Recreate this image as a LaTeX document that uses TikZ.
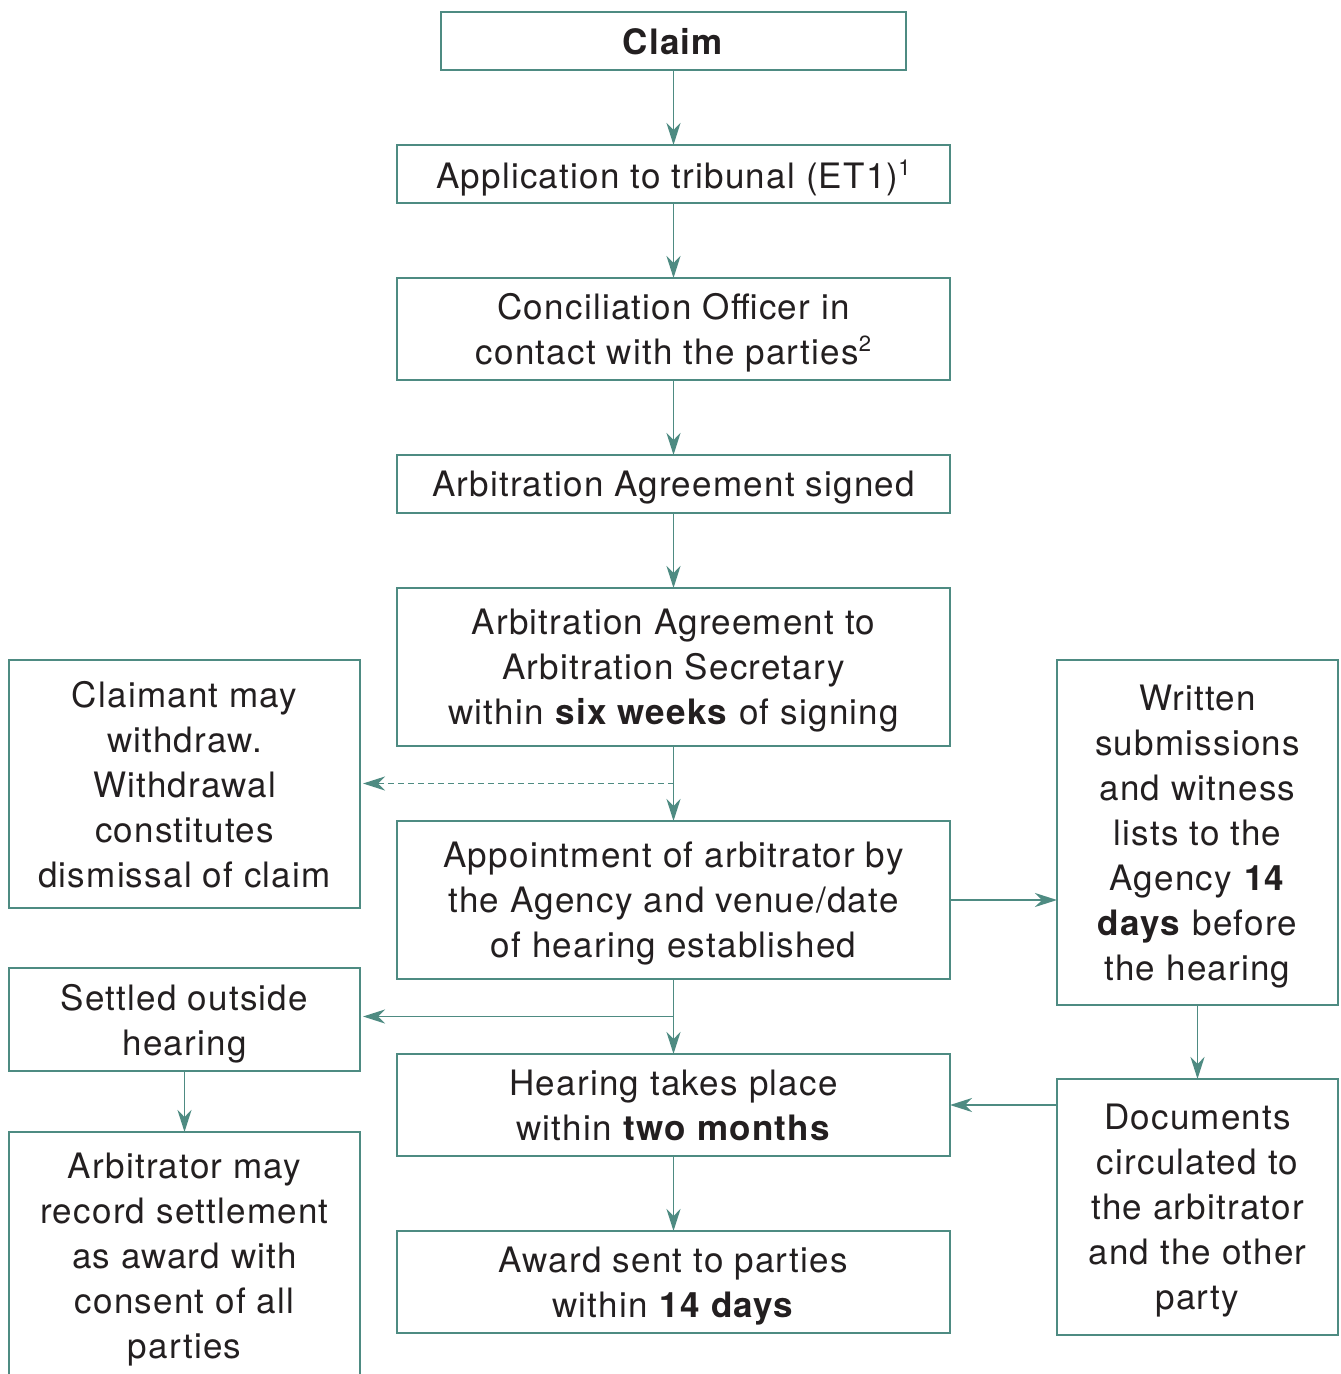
\documentclass[tikz,border=0pt]{standalone}
\usepackage{fontspec}
\setmainfont[LetterSpace=3.5]{TeX Gyre Heros}
\usetikzlibrary{positioning,calc,arrows.meta}
\definecolor{boxline}{HTML}{4E8B82}
\definecolor{ink}{HTML}{231F20}
\newcommand{\fnmark}[1]{\raisebox{13pt}{\fontsize{22}{22}\selectfont #1}}

\begin{document}
\begin{tikzpicture}[x=1pt,y=1pt,node distance=75pt,
    box/.style={draw=boxline,line width=1.6pt,outer sep=0pt,inner sep=0pt,align=center,text=ink,
        font=\fontsize{35}{45}\selectfont,text depth=0pt},
    mid node/.style={box,minimum width=553pt},
    side node/.style={box,minimum width=351pt},
    right node/.style={box,minimum width=281pt},
    arr/.style={draw=boxline,line width=1.6pt,-{Stealth[length=22pt,width=14pt,inset=7pt]}}]

            \useasboundingbox (0,0) rectangle (1341,-1374);
            \clip (0,0) rectangle (1341,-1374);

            \node[box, minimum width=465pt, minimum height=58pt] (1) at (673.5,-41) {\textbf{Claim}};
            \node[mid node, minimum height=58pt] (2) [below=of 1] {Application to tribunal (ET1)\fnmark{1}};
            \node[mid node, minimum height=102pt] (3) [below=of 2] {Conciliation Officer in\\contact with the parties\fnmark{2}};
            \node[mid node, minimum height=58pt] (4) [below=of 3] {Arbitration Agreement signed};
            \node[mid node, minimum height=158pt] (5) [below=of 4] {Arbitration Agreement to\\Arbitration Secretary\\within \textbf{six weeks} of signing};
            \node[mid node, minimum height=158pt] (6) [below=of 5] {Appointment of arbitrator by\\the Agency and venue/date\\of hearing established};
            \node[mid node, minimum height=102pt] (7) [below=of 6] {Hearing takes place\\within \textbf{two months}};
            \node[mid node, minimum height=102pt] (8) [below=of 7] {Award sent to parties\\within \textbf{14 days}};

            \node[side node, minimum height=248pt, anchor=north west] (9) at (9,-660) {Claimant may\\withdraw.\\Withdrawal\\constitutes\\dismissal of claim};
            \node[side node, minimum height=103pt, anchor=north west] (10) at (9,-968) {Settled outside\\hearing};
            \node[side node, minimum height=248pt, anchor=north west] (11) at (9,-1132) {Arbitrator may\\record settlement\\as award with\\consent of all\\parties};

            \node[right node, minimum height=345pt, anchor=north west] (12) at (1057,-660) {Written\\submissions\\and witness\\lists to the\\Agency \textbf{14}\\\textbf{days} before\\the hearing};
            \node[right node, minimum height=256pt, anchor=north west] (13) at (1057,-1079) {Documents\\circulated to\\the arbitrator\\and the other\\party};

            \draw[arr] (1) to (2);
            \draw[arr] (2) to (3);
            \draw[arr] (3) to (4);
            \draw[arr] (4) to (5);
            \draw[arr] (5) to (6);
            \draw[arr] (6) to (7);
            \draw[arr] (7) to (8);
            \draw[arr] (10) to (11);
            \draw[arr] (12) to (13);
            \draw[arr] (6.east) to (6.east -| 12.west);
            \draw[arr] (13.west |- 7.east) to (7.east);

            \coordinate (a) at ($(5.south)!.5!(6.north)$);
            \coordinate (b) at ($(6.south)!.5!(7.north)$);
            \draw[arr, line width=1.2pt, dash pattern=on 6pt off 4pt] (a) to ([xshift=3pt]a -| 9.east);
            \draw[arr] (b) to ([xshift=3pt]b -| 10.east);

            ;
        \end{tikzpicture}
\end{document}
